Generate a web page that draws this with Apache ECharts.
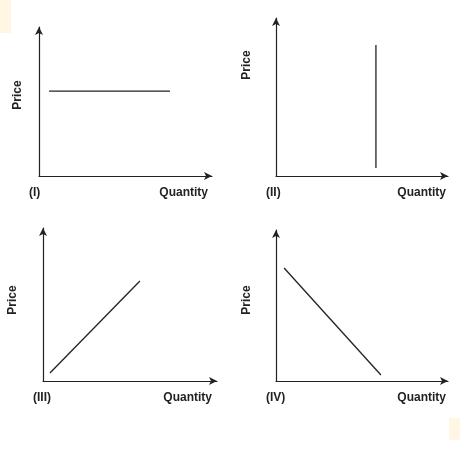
<!doctype html>
<html>
<head>
<meta charset="utf-8">
<script src="https://cdn.jsdelivr.net/npm/echarts@6/dist/echarts.min.js"></script>
<style>html,body{margin:0;padding:0;background:#fff}#c{width:460px;height:454px}</style>
</head>
<body>
<div id="c"></div>
<script>
// panel boxes (pixels): left, top, width, height
var panels = [[39, 27, 173, 149], [276, 18, 172, 158], [43, 228, 174, 153], [276, 230, 172, 151]];
var panelNames = ['(I)', '(II)', '(III)', '(IV)'];
// curves in 0..100 value units
var curve1 = [[5.8, 57], [75.7, 57]];
var curve2 = [[58.1, 82.9], [58.1, 5.1]];
var curve3 = [[4, 5.2], [55.7, 65.4]];
var curve4 = [[4.7, 74.8], [61, 4]];
var curves = [curve1, curve2, curve3, curve4];

let chart = echarts.init(document.getElementById('c'));
let font = {fontFamily: 'Liberation Sans', fontWeight: 'bold', fontSize: 12, fill: '#222'};
let grids = [], xs = [], ys = [], series = [], graphic = [];
graphic.push({type: 'rect', shape: {x: 0, y: 0, width: 11, height: 33}, style: {fill: '#fff7e3'}});
graphic.push({type: 'rect', shape: {x: 449, y: 418, width: 11, height: 22}, style: {fill: '#fff7e3'}});
let quantityRight = [208, 446, 212, 446];
panels.forEach(function (p, i) {
    grids.push({left: p[0], top: p[1], width: p[2], height: p[3]});
    let axisLine = {show: true, symbol: ['none', 'arrow'], symbolSize: [6, 8], lineStyle: {color: '#222', width: 1.2}};
    xs.push({type: 'value', gridIndex: i, min: 0, max: 100, axisLine: axisLine, axisTick: {show: false}, axisLabel: {show: false}, splitLine: {show: false}});
    ys.push({type: 'value', gridIndex: i, min: 0, max: 100, axisLine: axisLine, axisTick: {show: false}, axisLabel: {show: false}, splitLine: {show: false}});
    series.push({type: 'line', xAxisIndex: i, yAxisIndex: i, data: curves[i], symbol: 'none', lineStyle: {color: '#222', width: 1.3}, silent: true});
    let bottom = p[1] + p[3];
    graphic.push({type: 'text', x: p[0] - 10, y: bottom + 11, style: Object.assign({text: panelNames[i]}, font)});
    graphic.push({type: 'text', x: quantityRight[i], y: bottom + 11, style: Object.assign({text: 'Quantity', textAlign: 'right'}, font)});
});
var priceY = [95, 65, 300, 300], priceX = [18, 247, 13, 247];
priceY.forEach(function (y, i) {
    graphic.push({type: 'text', x: priceX[i], y: y, rotation: Math.PI / 2, style: Object.assign({text: 'Price', textAlign: 'center', textVerticalAlign: 'middle'}, font)});
});
chart.setOption({animation: false, grid: grids, xAxis: xs, yAxis: ys, series: series, graphic: graphic});
</script>
</body>
</html>
